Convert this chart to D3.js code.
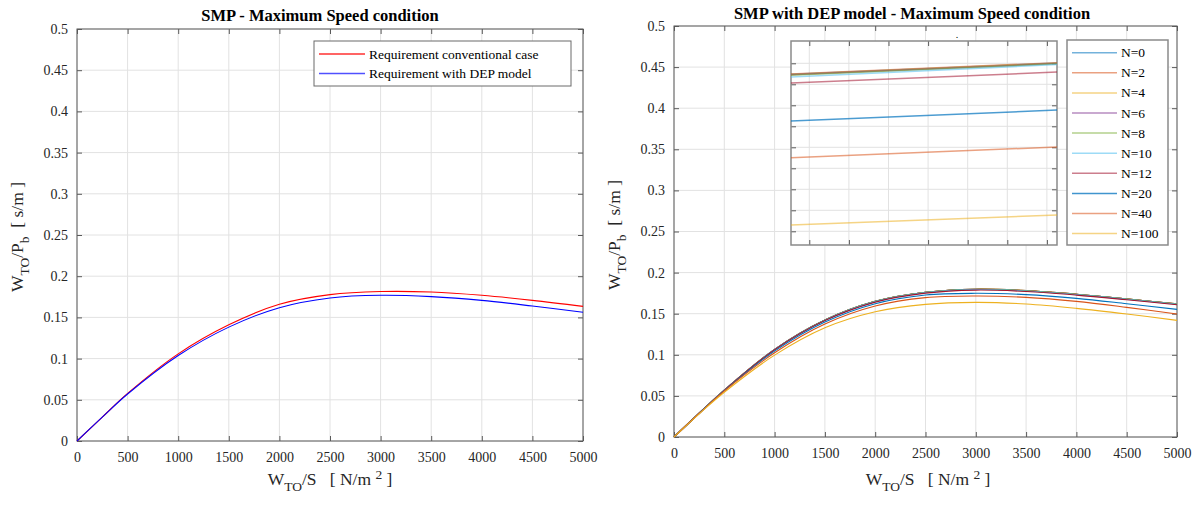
<!DOCTYPE html>
<html><head><meta charset="utf-8">
<script src="https://cdn.jsdelivr.net/npm/d3@7"></script>
<style>
html,body{margin:0;padding:0;background:#fff;}
svg{display:block;}
svg text{font-family:"Liberation Serif","Times New Roman",serif !important;}
</style></head>
<body>
<svg id="chart" width="1202" height="506"></svg>
<script>
// ---------------- DATA ----------------
const xTicks = [0,500,1000,1500,2000,2500,3000,3500,4000,4500,5000];
const yTicks = [0,0.05,0.1,0.15,0.2,0.25,0.3,0.35,0.4,0.45,0.5];
const wsValues = [0,250,500,1000,1500,2000,2500,3000,3500,4000,4500,5000];

// left chart
const leftLabels = ["Requirement conventional case","Requirement with DEP model"];
const reqConventional = [0,0.0290,0.0577,0.1057,0.1410,0.1659,0.1776,0.1814,0.1808,0.1768,0.1707,0.1634];
const reqDEP          = [0,0.0289,0.0570,0.1037,0.1382,0.1618,0.1736,0.1768,0.1752,0.1707,0.1638,0.1562];

// right chart
const nLabels = ["N=0","N=2","N=4","N=6","N=8","N=10","N=12","N=20","N=40","N=100"];
const nColors = ["#0072BD","#D95319","#EDB120","#7E2F8E","#77AC30","#4DBEEE","#A2142F","#0072BD","#D95319","#EDB120"];
const n0   = [0,0.0289,0.0570,0.1066,0.1424,0.1651,0.1761,0.1798,0.1781,0.1737,0.1680,0.1619];
const n2   = [0,0.0289,0.0570,0.1066,0.1424,0.1651,0.1761,0.1798,0.1781,0.1737,0.1680,0.1619];
const n4   = [0,0.0289,0.0570,0.1066,0.1424,0.1651,0.1761,0.1798,0.1781,0.1737,0.1680,0.1619];
const n6   = [0,0.0289,0.0570,0.1066,0.1423,0.1650,0.1760,0.1797,0.1780,0.1736,0.1679,0.1618];
const n8   = [0,0.0289,0.0569,0.1065,0.1423,0.1650,0.1760,0.1797,0.1780,0.1736,0.1679,0.1618];
const n10  = [0,0.0289,0.0569,0.1064,0.1421,0.1647,0.1757,0.1794,0.1777,0.1733,0.1676,0.1615];
const n12  = [0,0.0289,0.0568,0.1061,0.1416,0.1641,0.1750,0.1787,0.1770,0.1726,0.1669,0.1608];
const n20  = [0,0.0288,0.0565,0.1045,0.1398,0.1622,0.1728,0.1748,0.1732,0.1687,0.1622,0.1553];
const n40  = [0,0.0286,0.0560,0.1024,0.1374,0.1593,0.1695,0.1715,0.1699,0.1650,0.1577,0.1496];
const n100 = [0,0.0282,0.0545,0.0996,0.1329,0.1524,0.1614,0.1638,0.1618,0.1565,0.1496,0.1419];
const nSeries = [n0,n2,n4,n6,n8,n10,n12,n20,n40,n100];

// inset (zoomed view, no tick labels)
const insetX = [2990.76, 3125.1];
const insetXTicks = [3000,3020,3040,3060,3080,3100,3120];
const insetYTicks = [0.164,0.166,0.168,0.170,0.172,0.174,0.176,0.178,0.180];
const inN0   = [0.17895,0.18003];
const inN2   = [0.17898,0.18006];
const inN4   = [0.17894,0.18001];
const inN6   = [0.17890,0.17998];
const inN8   = [0.17886,0.17995];
const inN10  = [0.17870,0.17988];
const inN12  = [0.17812,0.17917];
const inN20  = [0.17451,0.17555];
const inN40  = [0.17101,0.17203];
const inN100 = [0.16460,0.16555];
const insetSeries = [inN0,inN2,inN4,inN6,inN8,inN10,inN12,inN20,inN40,inN100];

// ---------------- DRAW ----------------
const svg = d3.select("#chart");
const FONT = "Liberation Serif, Times New Roman, serif";
const TXT = "#262626", AX = "#5a5a5a", GRID = "#e2e2e2";
const fmtY = d => String(+d.toFixed(2));

function frame(g, x, y, xt, yt, labels) {
  const [x0,x1] = x.range(), [y0,y1] = y.range();
  g.append("rect").attr("x",x0).attr("y",y1).attr("width",x1-x0).attr("height",y0-y1).attr("fill","#fff");
  g.append("g").selectAll("line").data(xt).join("line")
    .attr("x1",d=>x(d)).attr("x2",d=>x(d)).attr("y1",y0).attr("y2",y1)
    .attr("stroke",GRID).attr("stroke-width",1);
  g.append("g").selectAll("line").data(yt).join("line")
    .attr("y1",d=>y(d)).attr("y2",d=>y(d)).attr("x1",x0).attr("x2",x1)
    .attr("stroke",GRID).attr("stroke-width",1);
  const style = a => {
    a.attr("font-family",FONT);
    a.selectAll("path,line").attr("stroke",AX);
    a.selectAll("text").attr("fill",TXT).attr("font-size",labels?14:0).style("font-family",FONT);
  };
  g.append("g").attr("transform",`translate(0,${y0})`)
    .call(d3.axisBottom(x).tickValues(xt).tickSize(-5).tickSizeOuter(0).tickPadding(11)
      .tickFormat(labels? d3.format("d") : ""))
    .call(style).call(a=>a.select(".domain").remove());
  g.append("g").attr("transform",`translate(0,${y1})`)
    .call(d3.axisTop(x).tickValues(xt).tickSize(-5).tickSizeOuter(0).tickFormat(""))
    .call(style).call(a=>a.select(".domain").remove());
  g.append("g").attr("transform",`translate(${x0},0)`)
    .call(d3.axisLeft(y).tickValues(yt).tickSize(-5).tickSizeOuter(0).tickPadding(9)
      .tickFormat(labels? fmtY : ""))
    .call(style).call(a=>a.select(".domain").remove());
  g.append("g").attr("transform",`translate(${x1},0)`)
    .call(d3.axisRight(y).tickValues(yt).tickSize(-5).tickSizeOuter(0).tickFormat(""))
    .call(style).call(a=>a.select(".domain").remove());
  return g.append("rect").attr("x",x0).attr("y",y1).attr("width",x1-x0).attr("height",y0-y1)
    .attr("fill","none").attr("stroke",AX).attr("stroke-width",1);
}

function yLabel(g, cx, cy) {
  const t = g.append("text").attr("transform",`translate(${cx},${cy}) rotate(-90)`)
    .attr("text-anchor","middle").attr("fill",TXT).attr("font-size",17.5);
  t.append("tspan").text("W");
  t.append("tspan").attr("dy",5.5).attr("font-size",13.5).text("TO");
  t.append("tspan").attr("dy",-5.5).text("/P");
  t.append("tspan").attr("dy",5.5).attr("font-size",13.5).text("b");
  t.append("tspan").attr("dy",-5.5).text("\u00A0\u00A0[ s/m ]");
}
function xLabel(g, cx, cy) {
  const t = g.append("text").attr("x",cx).attr("y",cy)
    .attr("text-anchor","middle").attr("fill",TXT).attr("font-size",17.5);
  t.append("tspan").text("W");
  t.append("tspan").attr("dy",5.5).attr("font-size",13.5).text("TO");
  t.append("tspan").attr("dy",-5.5).text("/S\u00A0\u00A0\u00A0[ N/m\u00A0");
  t.append("tspan").attr("dy",-6.5).attr("font-size",13.5).text("2");
  t.append("tspan").attr("dy",6.5).text("\u00A0]");
}

const curve = d3.curveCatmullRom.alpha(0.5);

// ---------- LEFT ----------
{
  const g = svg.append("g");
  const x = d3.scaleLinear().domain([0,5000]).range([77,583]);
  const y = d3.scaleLinear().domain([0,0.5]).range([441,29]);
  frame(g,x,y,xTicks,yTicks,true);
  const line = d3.line().x((d,i)=>x(wsValues[i])).y(d=>y(d)).curve(curve);
  g.append("path").attr("d",line(reqConventional)).attr("fill","none").attr("stroke","#ff0000").attr("stroke-width",1.1);
  g.append("path").attr("d",line(reqDEP)).attr("fill","none").attr("stroke","#0000ff").attr("stroke-width",1.1);
  g.append("text").attr("x",320).attr("y",21).attr("text-anchor","middle").attr("font-weight","bold")
    .attr("font-size",16.5).attr("fill","#000").text("SMP - Maximum Speed condition");
  yLabel(g, 23, 237);
  xLabel(g, 330, 485);
  // legend
  const lg = g.append("g");
  lg.append("rect").attr("x",314).attr("y",41).attr("width",257).attr("height",45)
    .attr("fill","#fff").attr("stroke","#6a6a6a").attr("stroke-width",1);
  const lc = ["#ff3030","#5050ff"];
  leftLabels.forEach((s,i)=>{
    const yy = 54 + i*19.5;
    lg.append("line").attr("x1",319).attr("x2",365).attr("y1",yy).attr("y2",yy).attr("stroke",lc[i]).attr("stroke-width",1.3);
    lg.append("text").attr("x",369).attr("y",yy+4.5).attr("font-size",13.5).attr("fill","#000").text(s);
  });
}

// ---------- RIGHT ----------
{
  const g = svg.append("g");
  const x = d3.scaleLinear().domain([0,5000]).range([674,1177]);
  const y = d3.scaleLinear().domain([0,0.5]).range([437,26]);
  frame(g,x,y,xTicks,yTicks,true);
  const line = d3.line().x((d,i)=>x(wsValues[i])).y(d=>y(d)).curve(curve);
  nSeries.forEach((s,i)=>{
    g.append("path").attr("d",line(s)).attr("fill","none").attr("stroke",nColors[i]).attr("stroke-width",1.1);
  });
  g.append("text").attr("x",912).attr("y",19).attr("text-anchor","middle").attr("font-weight","bold")
    .attr("font-size",16.5).attr("fill","#000").text("SMP with DEP model - Maximum Speed condition");
  yLabel(g, 620, 235);
  xLabel(g, 928, 485);

  // inset
  const ix = d3.scaleLinear().domain(insetX).range([791,1057]);
  const iy = d3.scaleLinear().domain([0.162695,0.182124]).range([245,41]);
  const ig = g.append("g");
  frame(ig,ix,iy,insetXTicks,insetYTicks,false).attr("stroke","#8a8a8a").attr("stroke-width",1.5);
  const iline = d3.line().x((d,i)=>ix(insetX[i])).y(d=>iy(d));
  insetSeries.forEach((s,i)=>{
    ig.append("path").attr("d",iline(s)).attr("fill","none").attr("stroke",nColors[i])
      .attr("stroke-opacity", i===7?0.7:0.55).attr("stroke-width",1.5);
  });
  ig.append("text").attr("x",957).attr("y",38).attr("text-anchor","middle").attr("font-size",10).attr("fill","#000").text(".");

  // legend
  const lg = g.append("g");
  lg.append("rect").attr("x",1067).attr("y",40).attr("width",101).attr("height",205)
    .attr("fill","#fff").attr("stroke","#8a8a8a").attr("stroke-width",1.5);
  nLabels.forEach((s,i)=>{
    const yy = 52.7 + i*20.1;
    lg.append("line").attr("x1",1072).attr("x2",1117).attr("y1",yy).attr("y2",yy)
      .attr("stroke",nColors[i]).attr("stroke-opacity", i===7?0.75:0.55).attr("stroke-width",1.5);
    lg.append("text").attr("x",1121).attr("y",yy+4.5).attr("font-size",13.5).attr("fill","#000").text(s);
  });
}
</script>
</body></html>
